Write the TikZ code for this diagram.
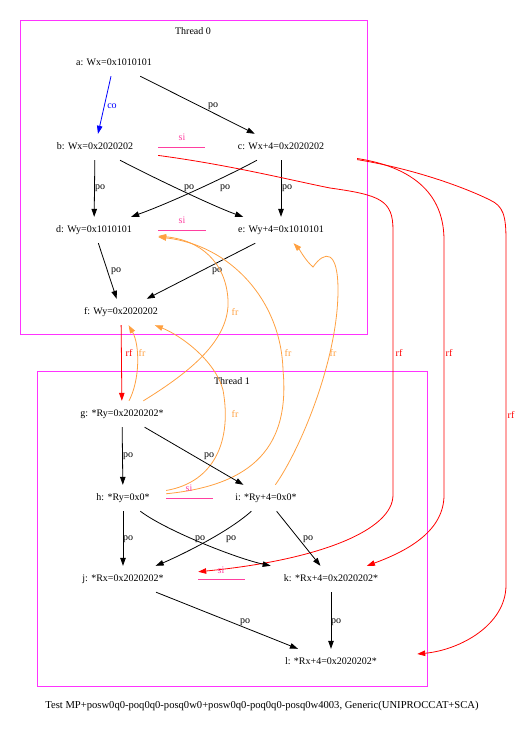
\documentclass[tikz,border=0pt]{standalone}
\usepackage{fontspec}
\setmainfont{Liberation Serif}
\usepackage{xcolor}
\definecolor{thr}{HTML}{FF33FF}
\definecolor{sicol}{HTML}{FF3FA0}
\definecolor{frcol}{HTML}{FFA040}
\usetikzlibrary{arrows.meta}

\begin{document}
\begin{tikzpicture}[
  x=1pt, y=-1pt,
  font=\fontsize{10}{12}\selectfont,
  ev/.style={minimum width=#1pt, minimum height=26pt, inner sep=0pt,
    text height=7pt, text depth=2pt},
  lab/.style={inner sep=0pt},
  arr/.style={-{Triangle[length=8pt,width=5.5pt]}, line width=0.8pt},
  poarr/.style={arr},
  coarr/.style={arr, blue},
  rfarr/.style={arr, red},
  frarr/.style={arr, frcol},
  siline/.style={line width=1pt, sicol},
  thread/.style={draw=thr, line width=1pt}
]
  \useasboundingbox (0,0) rectangle (525,729);
  \draw[thread] (20,20) rectangle (367,334);
  \draw[thread] (37,371) rectangle (427,686);
  \node (t0) at (193,31) {Thread 0};
  \node (t1) at (232,381) {Thread 1};

  \node[ev=126] (a) at (114,63) {a: Wx=0x1010101};
  \node[ev=126] (b) at (95,147) {b: Wx=0x2020202};
  \node[ev=152] (c) at (281,147) {c: Wx+4=0x2020202};
  \node[ev=128] (d) at (94,230) {d: Wy=0x1010101};
  \node[ev=150] (e) at (281,230) {e: Wy+4=0x1010101};
  \node[ev=128] (f) at (121,312) {f: Wy=0x2020202};
  \node[ev=146] (g) at (122,414) {g: *Ry=0x2020202*};
  \node[ev=86] (h) at (123,498) {h: *Ry=0x0*};
  \node[ev=106] (i) at (266,498) {i: *Ry+4=0x0*};
  \node[ev=150] (j) at (123,579) {j: *Rx=0x2020202*};
  \node[ev=172] (k) at (331,579) {k: *Rx+4=0x2020202*};
  \node[ev=172] (l) at (331,662) {l: *Rx+4=0x2020202*};
  \node[font=\fontsize{10.6}{12}\selectfont] (cap) at (262,706) {Test MP+posw0q0-poq0q0-posq0w0+posw0q0-poq0q0-posq0w4003, Generic(UNIPROCCAT+SCA)};

  \draw[coarr] (a) -- (b) node[lab, text=blue] at (112,106) {co};
  \draw[poarr] (a) -- (c) node[lab] at (213,106) {po};
  \draw[siline] (b) -- (c) node[lab, text=sicol] at (182,137) {si};
  \draw[poarr] (b) -- (d) node[lab] at (100,188) {po};
  \draw[poarr] (b) .. controls (150,176) and (215,207) .. (e) node[lab] at (189,188) {po};
  \draw[poarr] (c) .. controls (230,175) and (170,203) .. (d) node[lab] at (225,188) {po};
  \draw[poarr] (c) -- (e) node[lab] at (287,188) {po};
  \draw[siline] (d) -- (e) node[lab, text=sicol] at (182,220) {si};
  \draw[poarr] (d) -- (f) node[lab] at (116,271) {po};
  \draw[poarr] (e) -- (f) node[lab] at (217,271) {po};

  \draw[rfarr] (f) -- (g) node[lab, text=red] at (129,353) {rf};
  \draw[frarr] (g) .. controls (140,380) and (140,345) .. (f) node[lab, text=frcol] at (142,353) {fr};
  \draw[frarr] (g) .. controls (190,372) and (230,340) .. (228,300)
    .. controls (226,262) and (200,240) .. (d) node[lab, text=frcol] at (235,312) {fr};
  \draw[frarr] (h) .. controls (215,482) and (232,440) .. (223,390)
    .. controls (215,360) and (180,335) .. (f) node[lab, text=frcol] at (235,414) {fr};
  \draw[frarr] (h) .. controls (255,485) and (290,445) .. (283,370)
    .. controls (281,300) and (230,245) .. (d) node[lab, text=frcol] at (288,353) {fr};
  \draw[frarr] (i) .. controls (300,450) and (338,360) .. (338,290)
    .. controls (338,250) and (325,250) .. (313,267)
    .. controls (305,260) and (300,250) .. (e) node[lab, text=frcol] at (333,353) {fr};

  \draw[rfarr] (b) .. controls (230,165) and (290,180) .. (330,188)
    .. controls (380,195) and (393,200) .. (393,230) -- (393,495)
    .. controls (393,530) and (320,560) .. (j) node[lab, text=red] at (399,353) {rf};
  \draw[rfarr] (c) .. controls (400,165) and (444,185) .. (444,240) -- (444,495)
    .. controls (444,530) and (410,550) .. (k) node[lab, text=red] at (449,353) {rf};
  \draw[rfarr] (c) .. controls (420,170) and (470,190) .. (490,200)
    .. controls (503,206) and (506,215) .. (506,240) -- (506,585)
    .. controls (506,625) and (460,650) .. (l) node[lab, text=red] at (511,415) {rf};

  \draw[poarr] (g) -- (h) node[lab] at (128,456) {po};
  \draw[poarr] (g) -- (i) node[lab] at (209,456) {po};
  \draw[siline] (h) -- (i) node[lab, text=sicol] at (189,488) {si};
  \draw[poarr] (h) -- (j) node[lab] at (128,539) {po};
  \draw[poarr] (h) .. controls (165,530) and (235,558) .. (k) node[lab] at (200,539) {po};
  \draw[poarr] (i) .. controls (225,535) and (170,560) .. (j) node[lab] at (231,539) {po};
  \draw[poarr] (i) -- (k) node[lab] at (308,539) {po};
  \draw[siline] (j) -- (k) node[lab, text=sicol] at (221,570) {si};
  \draw[poarr] (j) -- (l) node[lab] at (245,622) {po};
  \draw[poarr] (k) -- (l) node[lab] at (336,622) {po};
\end{tikzpicture}
\end{document}
